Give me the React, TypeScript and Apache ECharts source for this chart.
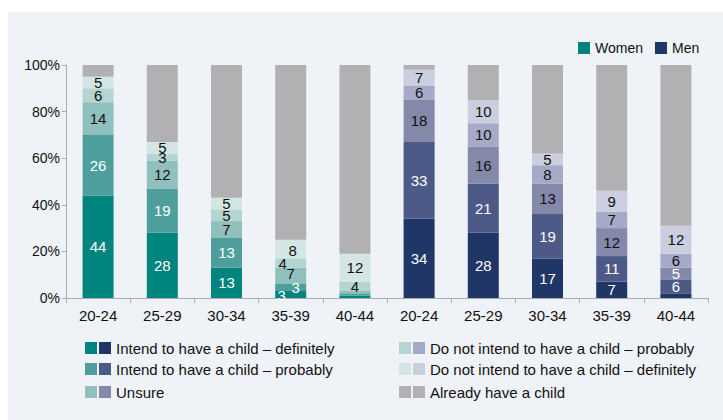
import React, { useEffect, useRef } from "react";
import * as echarts from "echarts";

const categories = ["20-24", "25-29", "30-34", "35-39", "40-44", "20-24", "25-29", "30-34", "35-39", "40-44"];
const yTicks = [0, 20, 40, 60, 80, 100];

const womenDef = [44, 28, 13, 3, 1];
const womenProb = [26, 19, 13, 3, 1];
const womenUnsure = [14, 12, 7, 7, 1];
const womenNotProb = [6, 3, 5, 4, 4];
const womenNotDef = [5, 5, 5, 8, 12];
const womenAlready = [5, 33, 57, 75, 81];

const menDef = [34, 28, 17, 7, 2];
const menProb = [33, 21, 19, 11, 6];
const menUnsure = [18, 16, 13, 12, 5];
const menNotProb = [6, 10, 8, 7, 6];
const menNotDef = [7, 10, 5, 9, 12];
const menAlready = [2, 15, 38, 54, 69];

const seriesNames = [
  "Intend to have a child – definitely",
  "Intend to have a child – probably",
  "Unsure",
  "Do not intend to have a child – probably",
  "Do not intend to have a child – definitely",
  "Already have a child",
];

const womenColors = ["#00857e", "#4e9f9c", "#90c0bd", "#b4d5d1", "#d4e6e4", "#b1b1b3"];
const menColors = ["#1f3667", "#4d5a88", "#8489aa", "#a7aac7", "#cbcedf", "#b1b1b3"];

const FONT = "'Liberation Sans', Arial, sans-serif";

export default function App() {
  const ref = useRef<HTMLDivElement>(null);
  useEffect(() => {
    if (!ref.current) return;
    const chart = echarts.init(ref.current, null, { renderer: "svg" });
    const women = [womenDef, womenProb, womenUnsure, womenNotProb, womenNotDef, womenAlready];
    const men = [menDef, menProb, menUnsure, menNotProb, menNotDef, menAlready];

    // manual label nudges for the crowded 35-39 women bar (index 3)
    const nudges: Record<string, number[]> = {
      "0-3": [-9, 1],
      "1-3": [5, 0],
      "2-3": [0, -2],
      "3-3": [-8, 0],
      "4-3": [2, 1],
    };

    const series = seriesNames.map((name, si) => {
      const data = categories.map((_, ci) => {
        const isWomen = ci < 5;
        const v = isWomen ? women[si][ci] : men[si][ci - 5];
        const white = si <= 1 || (!isWomen && si === 2 && ci === 9);
        const nudge = nudges[`${si}-${ci}`] || [0, 0];
        return {
          value: v,
          itemStyle: { color: isWomen ? womenColors[si] : menColors[si] },
          label: {
            show: si < 5 && v >= 3,
            color: white ? "#ffffff" : "#111111",
            offset: nudge,
          },
        };
      });
      return {
        name,
        type: "bar",
        stack: "total",
        barWidth: 31,
        data,
        label: {
          show: true,
          position: "inside",
          fontFamily: FONT,
          fontSize: 15,
          formatter: (p: any) => String(p.value),
        },
      };
    });

    const legendRows = [
      { x: 85, y: 342, c1: womenColors[0], c2: menColors[0], t: seriesNames[0] },
      { x: 85, y: 363, c1: womenColors[1], c2: menColors[1], t: seriesNames[1] },
      { x: 85, y: 386, c1: womenColors[2], c2: menColors[2], t: seriesNames[2] },
      { x: 399, y: 342, c1: womenColors[3], c2: menColors[3], t: seriesNames[3] },
      { x: 399, y: 363, c1: womenColors[4], c2: menColors[4], t: seriesNames[4] },
      { x: 399, y: 386, c1: womenColors[5], c2: menColors[5], t: seriesNames[5] },
    ];
    const graphics: any[] = [
      { type: "rect", z: -10, shape: { x: 8, y: 12, width: 715, height: 408 }, style: { fill: "#eff2f7" } },
      { type: "rect", shape: { x: 578, y: 42, width: 12, height: 12 }, style: { fill: womenColors[0] } },
      { type: "text", x: 595, y: 48, style: { text: "Women", font: `14px ${FONT}`, fill: "#111", textVerticalAlign: "middle" } },
      { type: "rect", shape: { x: 655, y: 42, width: 12, height: 12 }, style: { fill: menColors[0] } },
      { type: "text", x: 672, y: 48, style: { text: "Men", font: `14px ${FONT}`, fill: "#111", textVerticalAlign: "middle" } },
    ];
    legendRows.forEach((r) => {
      graphics.push({ type: "rect", shape: { x: r.x, y: r.y, width: 12, height: 12 }, style: { fill: r.c1 } });
      graphics.push({ type: "rect", shape: { x: r.x + 14, y: r.y, width: 12, height: 12 }, style: { fill: r.c2 } });
      graphics.push({
        type: "text",
        x: r.x + 31,
        y: r.y + 6,
        style: { text: r.t, font: `15px ${FONT}`, fill: "#111", textVerticalAlign: "middle" },
      });
    });

    chart.setOption({
      animation: false,
      backgroundColor: "#ffffff",
      grid: { left: 66, right: 15, top: 65, bottom: 122 },
      xAxis: {
        type: "category",
        data: categories,
        axisLine: { lineStyle: { color: "#a9adb3", width: 1 } },
        axisTick: { show: true, length: 5, lineStyle: { color: "#a9adb3" } },
        axisLabel: { color: "#111", fontFamily: FONT, fontSize: 15, margin: 10 },
      },
      yAxis: {
        type: "value",
        min: 0,
        max: 100,
        interval: 20,
        axisLine: { show: true, lineStyle: { color: "#a9adb3", width: 1 } },
        axisTick: { show: true, length: 4, lineStyle: { color: "#a9adb3" } },
        splitLine: { show: false },
        axisLabel: {
          color: "#111",
          fontFamily: FONT,
          fontSize: 14,
          margin: 6,
          formatter: (v: number) => (yTicks.includes(v) ? `${v}%` : ""),
        },
      },
      graphic: graphics,
      series,
    });
    return () => chart.dispose();
  }, []);
  return (
    <div
      ref={ref}
      style={{ position: "fixed", left: 0, top: 0, width: 723, height: 420 }}
    />
  );
}
